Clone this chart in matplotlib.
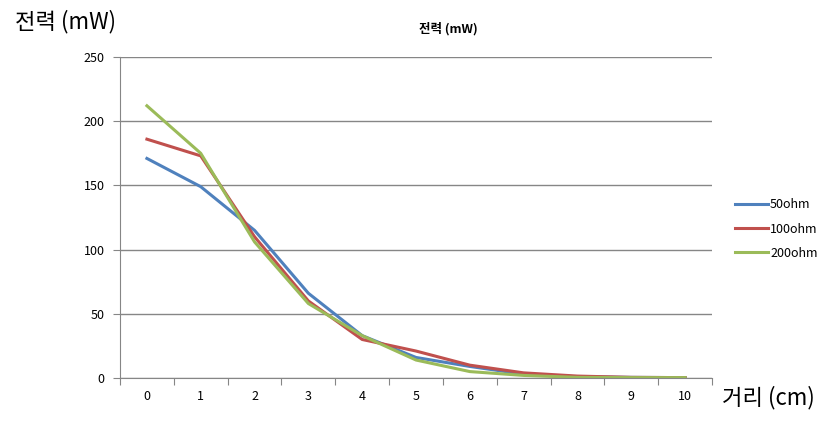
import numpy as np
import matplotlib.pyplot as plt

plt.rcParams['font.family'] = ['Noto Sans CJK KR', 'DejaVu Sans']

distance = list(range(11))
power_50ohm = [171, 149, 115, 66, 33, 16, 9, 3, 1, 0.5, 0.3]
power_100ohm = [186, 173, 110, 60, 30, 21, 10, 4, 1.5, 0.5, 0.3]
power_200ohm = [212, 175, 106, 58, 33, 14, 5, 2, 0.5, 0.3, 0.3]
series_names = ['50ohm', '100ohm', '200ohm']
colors = ['#4F81BD', '#C0504D', '#9BBB59']

fig = plt.figure(figsize=(8.39, 4.25), dpi=100)
ax = fig.add_axes([120/839, 1 - 378/425, 592/839, 321/425])

for vals, name, c in zip([power_50ohm, power_100ohm, power_200ohm], series_names, colors):
    ax.plot(distance, vals, color=c, lw=2.2, label=name, solid_joinstyle='round')

ax.set_xlim(-0.5, 10.5)
ax.set_ylim(0, 250)
ax.set_yticks(range(0, 251, 50))
ax.yaxis.grid(True, color='#868686', lw=1)
ax.set_axisbelow(True)

# category axis: ticks between categories, labels centred
ax.set_xticks(np.arange(-0.5, 11, 1))
ax.set_xticklabels([])
ax.set_xticks(distance, minor=True)
ax.set_xticklabels([str(d) for d in distance], minor=True)
ax.tick_params(axis='x', which='major', length=5, color='#868686')
ax.tick_params(axis='x', which='minor', length=0, pad=9, labelsize=9)
ax.tick_params(axis='y', length=5, color='#868686', labelsize=9, pad=6)

for s in ['top', 'right']:
    ax.spines[s].set_visible(False)
for s in ['left', 'bottom']:
    ax.spines[s].set_color('#868686')

# chart title (centred on the whole chart area incl. legend)
fig.text(448/839, 1 - 29/425, '전력 (mW)', fontsize=9, fontweight='bold',
         ha='center', va='center')
fig.text(15/839, 1 - 22/425, '전력 (mW)', fontsize=16, va='center', ha='left')
fig.text(722/839, 1 - 398/425, '거리 (cm)', fontsize=16, va='center', ha='left')

ax.legend(loc='center left', bbox_to_anchor=(1.02, 0.464), frameon=False,
          fontsize=9, handlelength=2.6, handletextpad=0.2, labelspacing=0.9)

fig.savefig('out.png', dpi=100)
